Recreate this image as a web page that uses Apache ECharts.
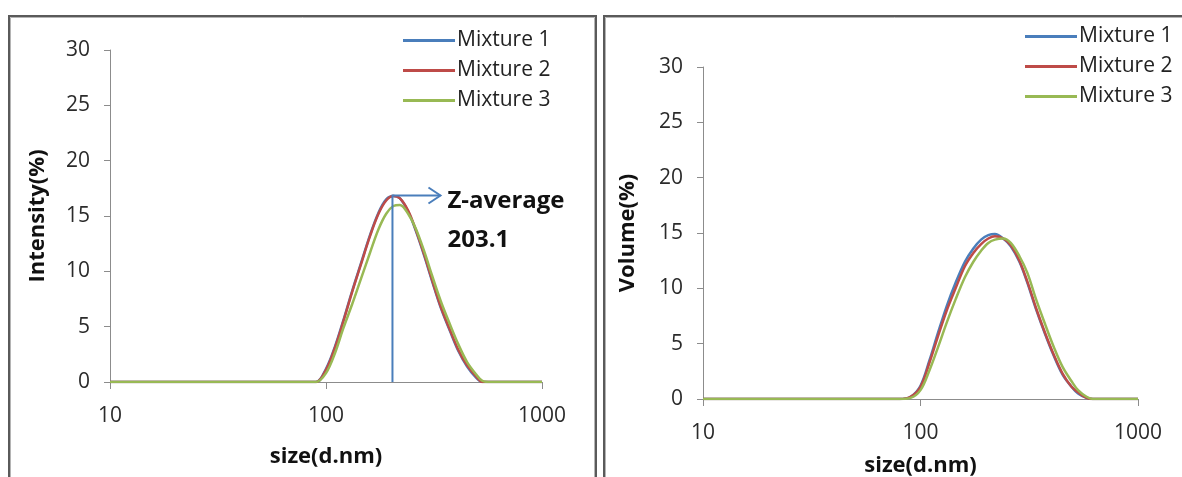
<!DOCTYPE html>
<html>
<head>
<meta charset="utf-8">
<script src="https://cdn.jsdelivr.net/npm/echarts@6/dist/echarts.min.js"></script>
<style>
html,body{margin:0;padding:0;background:#fff;}
#chart{width:1182px;height:477px;}
</style>
</head>
<body>
<div id="chart"></div>
<script>
const sizes = [10, 30, 60, 80, 90, 100, 110, 120, 132, 145, 160, 175, 190, 205, 220, 240, 260, 285, 310, 340, 375, 410, 450, 495, 530, 580, 620, 700, 1000];
const seriesNames = ['Mixture 1', 'Mixture 2', 'Mixture 3'];
// Intensity (%)
const intensity1 = [0, 0, 0, 0, 0, 1.2, 3.2, 5.5, 8.2, 10.7, 13.3, 15.3, 16.5, 16.8, 16.6, 15.4, 13.7, 11.4, 9.1, 6.7, 4.6, 2.8, 1.4, 0.4, 0, 0, 0, 0, 0];
const intensity2 = [0, 0, 0, 0, 0, 1.1, 3.1, 5.4, 8.1, 10.6, 13.2, 15.2, 16.4, 16.8, 16.6, 15.5, 13.8, 11.5, 9.2, 6.8, 4.7, 2.9, 1.5, 0.5, 0, 0, 0, 0, 0];
const intensity3 = [0, 0, 0, 0, 0, 0.8, 2.6, 4.8, 7.0, 9.3, 11.7, 13.8, 15.2, 15.9, 16.0, 15.2, 13.9, 11.8, 9.6, 7.3, 5.2, 3.4, 1.8, 0.7, 0.1, 0, 0, 0, 0];
// Volume (%)
const volume1 = [0, 0, 0, 0, 0.2, 1.2, 3.5, 5.9, 8.4, 10.5, 12.4, 13.6, 14.4, 14.8, 14.9, 14.5, 13.8, 12.4, 10.5, 8.1, 5.8, 3.9, 2.2, 1.1, 0.5, 0.1, 0, 0, 0];
const volume2 = [0, 0, 0, 0, 0.2, 1.1, 3.3, 5.6, 8.0, 10.0, 12.0, 13.2, 14.0, 14.5, 14.7, 14.5, 13.9, 12.5, 10.6, 8.2, 5.9, 4.0, 2.3, 1.1, 0.6, 0.1, 0, 0, 0];
const volume3 = [0, 0, 0, 0, 0.1, 0.8, 2.6, 4.6, 6.9, 9.0, 11.0, 12.4, 13.4, 14.1, 14.4, 14.5, 14.1, 12.9, 11.4, 9.0, 6.7, 4.7, 2.9, 1.6, 0.8, 0.2, 0, 0, 0];
// annotation
const zAverage = 203.1;
const zAverageLabel = ['Z-average', '203.1'];
const zPeak = 16.85;
const yTicks = {min: 0, max: 30, interval: 5};
const xRange = {min: 10, max: 1000};

const colors = ['#4A7EBB', '#BE4B48', '#98B954'];
const FONT = '"Open Sans", "Noto Sans", sans-serif';
const axisColor = '#8c8c8c';
const textColor = '#2b2b2b';

function pairs(arr){ return sizes.map((s,i)=>[s, arr[i]]); }

function xAxis(gi, gap){
  return {
    type: 'log', logBase: 10, gridIndex: gi, min: xRange.min, max: xRange.max,
    name: 'size(d.nm)', nameLocation: 'middle', nameGap: gap,
    nameTextStyle: {fontFamily: FONT, fontWeight: 'bold', fontSize: 22, color: '#111'},
    axisLine: {onZero: false, lineStyle: {color: axisColor, width: 1}},
    axisTick: {show: true, length: 7, lineStyle: {color: axisColor}},
    minorTick: {show: false},
    splitLine: {show: false},
    axisLabel: {fontFamily: FONT, fontSize: 21, color: textColor, margin: 24,
      formatter: function(v){ return String(Math.round(v)); }}
  };
}
function yAxis(gi, name, gap){
  return {
    type: 'value', gridIndex: gi, min: yTicks.min, max: yTicks.max, interval: yTicks.interval,
    name: name, nameLocation: 'middle', nameGap: gap, nameRotate: 90,
    nameTextStyle: {fontFamily: FONT, fontWeight: 'bold', fontSize: 22, color: '#111'},
    axisLine: {show: true, lineStyle: {color: axisColor, width: 1}},
    axisTick: {show: true, length: 6, lineStyle: {color: axisColor}},
    splitLine: {show: false},
    axisLabel: {fontFamily: FONT, fontSize: 21, color: textColor, margin: 20}
  };
}
function line(name, data, gi, ci){
  return {
    name: name, type: 'line', xAxisIndex: gi, yAxisIndex: gi, data: pairs(data),
    smooth: 0.35, showSymbol: false, symbol: 'none',
    lineStyle: {color: colors[ci], width: 2.5}, itemStyle: {color: colors[ci]},
    z: 2 + ci, animation: false
  };
}
function legend(left, topPos){
  return {
    orient: 'vertical', left: left, top: topPos, padding: 0, itemWidth: 52, itemHeight: 3, itemGap: 9,
    icon: 'rect', selectedMode: false,
    textStyle: {fontFamily: FONT, fontSize: 21, color: '#222', lineHeight: 21, padding: [0,0,0,-3]},
    data: seriesNames
  };
}

const chart = echarts.init(document.getElementById('chart'), null, {renderer: 'canvas'});
const option = {
  backgroundColor: '#fff',
  animation: false,
  grid: [
    {left: 110, top: 50, width: 432, height: 332, outerBoundsMode: 'none', containLabel: false},
    {left: 703, top: 67, width: 435, height: 332, outerBoundsMode: 'none', containLabel: false}
  ],
  xAxis: [xAxis(0, 64), xAxis(1, 56)],
  yAxis: [yAxis(0, 'Intensity(%)', 61), yAxis(1, 'Volume(%)', 64)],
  legend: [legend(403, 30), legend(1025, 26)],
  series: [
    line(seriesNames[0], intensity1, 0, 0),
    line(seriesNames[1], intensity2, 0, 1),
    line(seriesNames[2], intensity3, 0, 2),
    line(seriesNames[0], volume1, 1, 0),
    line(seriesNames[1], volume2, 1, 1),
    line(seriesNames[2], volume3, 1, 2)
  ]
};
chart.setOption(option);

// panel frames + Z-average annotation
const zBase = chart.convertToPixel({xAxisIndex: 0, yAxisIndex: 0}, [zAverage, 0]);
const zTop = chart.convertToPixel({xAxisIndex: 0, yAxisIndex: 0}, [zAverage, zPeak]);
const arrowLen = 48;
const blue = colors[0];
chart.setOption({
  graphic: [
    {type: 'rect', shape: {x: 9, y: 16, width: 587, height: 500}, style: {fill: null, stroke: '#5a5a5a', lineWidth: 2}, z: 10},
    {type: 'rect', shape: {x: 10.5, y: 17.5, width: 584, height: 500}, style: {fill: null, stroke: '#b4b4b4', lineWidth: 1}, z: 10},
    {type: 'rect', shape: {x: 604, y: 16, width: 600, height: 500}, style: {fill: null, stroke: '#5a5a5a', lineWidth: 2}, z: 10},
    {type: 'rect', shape: {x: 605.5, y: 17.5, width: 600, height: 500}, style: {fill: null, stroke: '#b4b4b4', lineWidth: 1}, z: 10},
    {type: 'polyline', shape: {points: [[zBase[0], zBase[1]], [zTop[0], zTop[1]], [zTop[0] + arrowLen, zTop[1]]]},
      style: {fill: null, stroke: blue, lineWidth: 2}, z: 20},
    {type: 'polyline', shape: {points: [[zTop[0] + arrowLen - 12, zTop[1] - 8], [zTop[0] + arrowLen, zTop[1]], [zTop[0] + arrowLen - 12, zTop[1] + 8]]},
      style: {fill: null, stroke: blue, lineWidth: 2}, z: 20},
    {type: 'text', x: zTop[0] + arrowLen + 7, y: zTop[1] + 6,
      style: {text: zAverageLabel[0], fontFamily: FONT, fontWeight: 'bold', fontSize: 24, fill: '#111', verticalAlign: 'middle', align: 'left'}, z: 20},
    {type: 'text', x: zTop[0] + arrowLen + 7, y: zTop[1] + 45,
      style: {text: zAverageLabel[1], fontFamily: FONT, fontWeight: 'bold', fontSize: 24, fill: '#111', verticalAlign: 'middle', align: 'left'}, z: 20}
  ]
});
</script>
</body>
</html>
